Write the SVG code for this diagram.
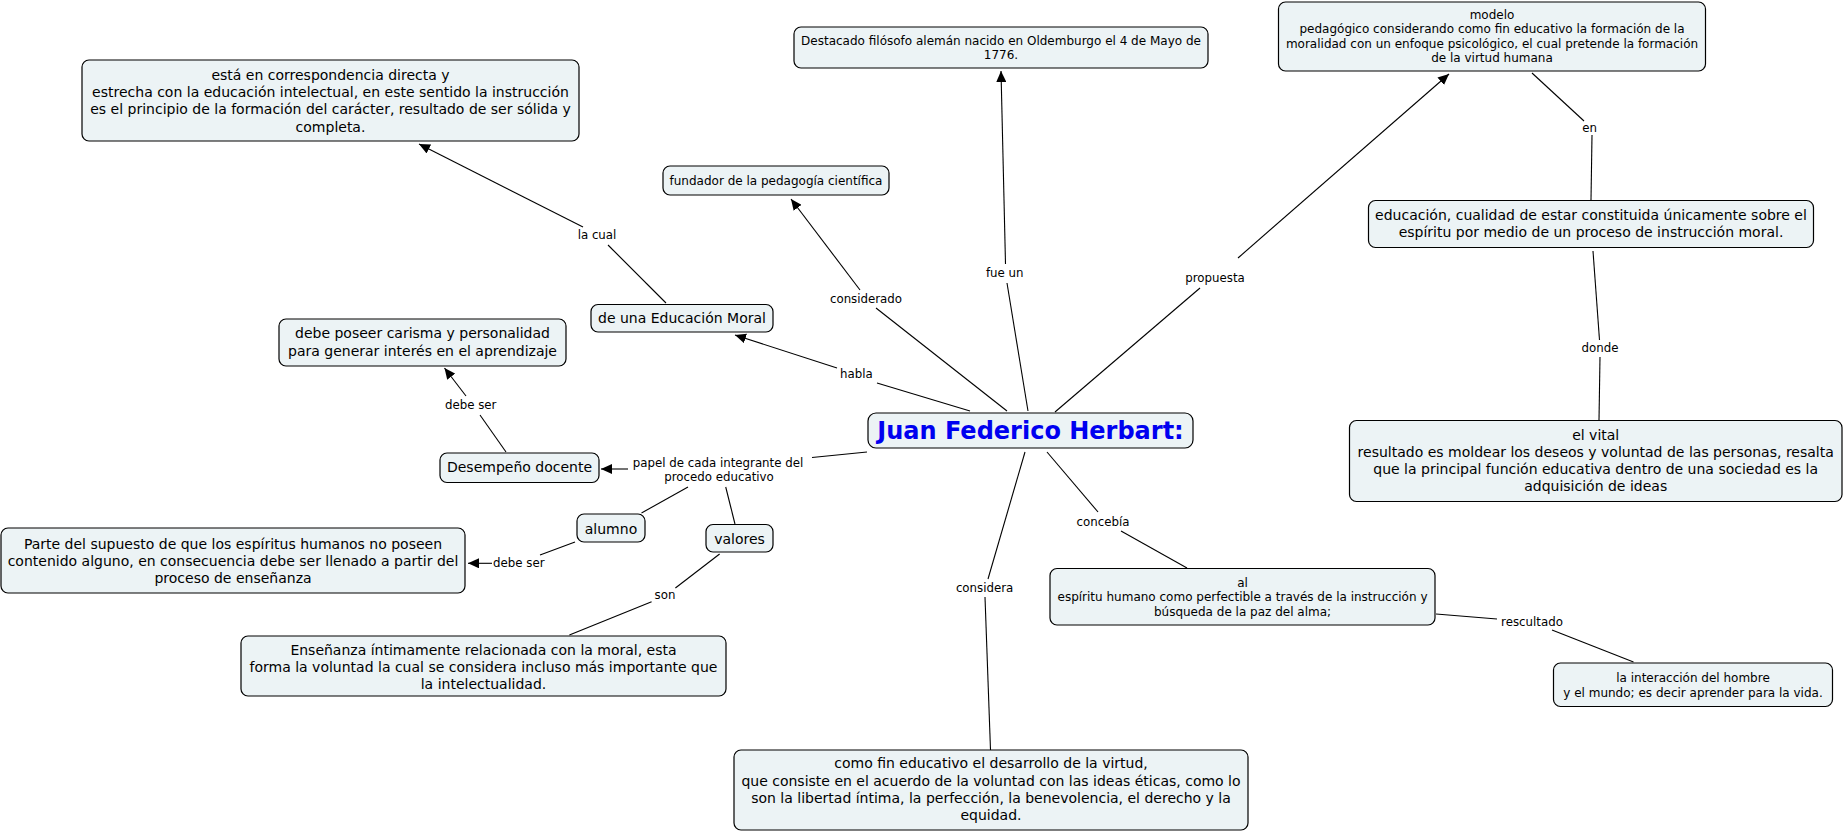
<svg xmlns="http://www.w3.org/2000/svg" width="1846" height="832" viewBox="0 0 1846 832">
<defs>
<style>
.n rect{fill:#ecf3f5;stroke:#000;stroke-width:1.2}
.n text{font-family:"DejaVu Sans",Verdana,sans-serif;font-size:14px;fill:#000;text-anchor:middle}
.n text.s{font-size:12px}
.n text.t{font-size:24px;font-weight:bold;fill:#0000f0}
.c line{stroke:#000;stroke-width:1.1}
.c line.a{marker-end:url(#ah)}
.l{font-family:"DejaVu Sans",Verdana,sans-serif;font-size:11.8px;fill:#000;text-anchor:middle}
</style>
<marker id="ah" markerUnits="userSpaceOnUse" markerWidth="12" markerHeight="10" refX="11" refY="5" orient="auto">
<path d="M0,0 L11,5 L0,10 z" fill="#000"/>
</marker>
</defs>
<rect width="1846" height="832" fill="#fff"/>

<g id="connectors" class="c">
<line x1="666" y1="303" x2="608" y2="245"/>
<line class="a" x1="583" y1="227" x2="419" y2="144"/>
<line x1="970" y1="411" x2="877" y2="383"/>
<line class="a" x1="837" y1="368" x2="735" y2="335"/>
<line x1="1007" y1="411" x2="876" y2="308"/>
<line class="a" x1="860" y1="290" x2="791" y2="199"/>
<line x1="1028" y1="411" x2="1007" y2="283"/>
<line class="a" x1="1005.5" y1="264" x2="1001" y2="71"/>
<line x1="1055" y1="412" x2="1200" y2="288"/>
<line class="a" x1="1238" y1="258" x2="1449" y2="74"/>
<line x1="1532" y1="73" x2="1584" y2="121"/>
<line x1="1592" y1="135" x2="1591" y2="200"/>
<line x1="1593" y1="251" x2="1599.5" y2="340"/>
<line x1="1600" y1="357" x2="1599" y2="420"/>
<line x1="1047" y1="452" x2="1098" y2="512"/>
<line x1="1121" y1="531" x2="1187" y2="568"/>
<line x1="1025" y1="452" x2="988" y2="579"/>
<line x1="985" y1="597" x2="990.5" y2="750"/>
<line x1="1436" y1="614" x2="1497" y2="619"/>
<line x1="1552" y1="630" x2="1633.5" y2="662"/>
<line x1="867" y1="452" x2="812" y2="457.5"/>
<line class="a" x1="628" y1="469" x2="601" y2="469"/>
<line x1="688" y1="487" x2="641.5" y2="513"/>
<line x1="725.7" y1="487" x2="735" y2="524"/>
<line x1="575" y1="542" x2="540" y2="555"/>
<line class="a" x1="492" y1="563.3" x2="468" y2="563.3"/>
<line x1="719.6" y1="554" x2="675.4" y2="588"/>
<line x1="651.6" y1="601.7" x2="569.4" y2="635"/>
<line x1="506" y1="452" x2="480" y2="415"/>
<line class="a" x1="466" y1="396" x2="444.5" y2="368"/>
</g>

<g id="labels">
<text class="l" x="597" y="238.5">la cual</text>
<text class="l" x="856.4" y="378.2">habla</text>
<text class="l" x="866" y="303.2">considerado</text>
<text class="l" x="1004.7" y="276.5">fue un</text>
<text class="l" x="1215" y="281.7">propuesta</text>
<text class="l" x="1589.5" y="131.9">en</text>
<text class="l" x="1600" y="351.9">donde</text>
<text class="l" x="1103" y="525.9">concebía</text>
<text class="l" x="984.6" y="591.9">considera</text>
<text class="l" x="1532" y="625.9">rescultado</text>
<text class="l" x="718" y="466.9">papel de cada integrante del</text>
<text class="l" x="719" y="480.9">procedo educativo</text>
<text class="l" x="518.8" y="567.3">debe ser</text>
<text class="l" x="665" y="598.6">son</text>
<text class="l" x="470.7" y="409">debe ser</text>
</g>

<g id="n-correspondencia" class="n">
<rect x="82" y="60" width="497" height="81" rx="7"/>
<text x="330.5" y="80">está en correspondencia directa y</text>
<text x="330.5" y="97.2">estrecha con la educación intelectual, en este sentido la instrucción</text>
<text x="330.5" y="114.4">es el principio de la formación del carácter, resultado de ser sólida y</text>
<text x="330.5" y="131.6">completa.</text>
</g>

<g id="n-destacado" class="n">
<rect x="794" y="27" width="414" height="41" rx="7"/>
<text class="s" x="1001" y="45">Destacado filósofo alemán nacido en Oldemburgo el 4 de Mayo de</text>
<text class="s" x="1001" y="59.3">1776.</text>
</g>

<g id="n-fundador" class="n">
<rect x="663" y="166" width="226" height="29" rx="7"/>
<text class="s" x="776" y="185">fundador de la pedagogía científica</text>
</g>

<g id="n-educacion-moral" class="n">
<rect x="591" y="304.5" width="182" height="27.5" rx="7"/>
<text x="682" y="323">de una Educación Moral</text>
</g>

<g id="n-carisma" class="n">
<rect x="279" y="319" width="287" height="47" rx="7"/>
<text x="422.5" y="338.2">debe poseer carisma y personalidad</text>
<text x="422.5" y="355.6">para generar interés en el aprendizaje</text>
</g>

<g id="n-herbart" class="n">
<rect x="868" y="413" width="325" height="35" rx="8"/>
<text class="t" x="1030.5" y="438.5">Juan Federico Herbart:</text>
</g>

<g id="n-docente" class="n">
<rect x="440" y="453" width="159" height="29.5" rx="7"/>
<text x="519.5" y="471.6">Desempeño docente</text>
</g>

<g id="n-alumno" class="n">
<rect x="577" y="514" width="68" height="28" rx="7"/>
<text x="611" y="533.9">alumno</text>
</g>

<g id="n-valores" class="n">
<rect x="706" y="524.5" width="67" height="27.5" rx="7"/>
<text x="739.5" y="543.6">valores</text>
</g>

<g id="n-parte" class="n">
<rect x="1" y="528" width="464" height="65" rx="7"/>
<text x="233" y="549">Parte del supuesto de que los espíritus humanos no poseen</text>
<text x="233" y="565.8">contenido alguno, en consecuencia debe ser llenado a partir del</text>
<text x="233" y="582.8">proceso de enseñanza</text>
</g>

<g id="n-ensenanza" class="n">
<rect x="241" y="636" width="485" height="60" rx="7"/>
<text x="483.5" y="655">Enseñanza íntimamente relacionada con la moral, esta</text>
<text x="483.5" y="671.8">forma la voluntad la cual se considera incluso más importante que</text>
<text x="483.5" y="688.8">la intelectualidad.</text>
</g>

<g id="n-virtud" class="n">
<rect x="734" y="750" width="514" height="80" rx="7"/>
<text x="991" y="768.3">como fin educativo el desarrollo de la virtud,</text>
<text x="991" y="785.5">que consiste en el acuerdo de la voluntad con las ideas éticas, como lo</text>
<text x="991" y="802.7">son la libertad íntima, la perfección, la benevolencia, el derecho y la</text>
<text x="991" y="820">equidad.</text>
</g>

<g id="n-al" class="n">
<rect x="1050" y="568.5" width="385" height="56.5" rx="7"/>
<text class="s" x="1242.5" y="586.5">al</text>
<text class="s" x="1242.5" y="601">espíritu humano como perfectible a través de la instrucción y</text>
<text class="s" x="1242.5" y="615.5">búsqueda de la paz del alma;</text>
</g>

<g id="n-interaccion" class="n">
<rect x="1553.5" y="663" width="279" height="43.5" rx="7"/>
<text class="s" x="1693" y="681.5">la interacción del hombre</text>
<text class="s" x="1693" y="696.5">y el mundo; es decir aprender para la vida.</text>
</g>

<g id="n-vital" class="n">
<rect x="1349.5" y="420.5" width="492.5" height="81" rx="7"/>
<text x="1595.7" y="440">el vital</text>
<text x="1595.7" y="457.2">resultado es moldear los deseos y voluntad de las personas, resalta</text>
<text x="1595.7" y="474">que la principal función educativa dentro de una sociedad es la</text>
<text x="1595.7" y="491">adquisición de ideas</text>
</g>

<g id="n-educacion" class="n">
<rect x="1368.5" y="200.5" width="445" height="47" rx="7"/>
<text x="1591" y="220">educación, cualidad de estar constituida únicamente sobre el</text>
<text x="1591" y="236.6">espíritu por medio de un proceso de instrucción moral.</text>
</g>

<g id="n-modelo" class="n">
<rect x="1278.5" y="2" width="427" height="69" rx="7"/>
<text class="s" x="1492" y="18.5">modelo</text>
<text class="s" x="1492" y="33.2">pedagógico considerando como fin educativo la formación de la</text>
<text class="s" x="1492" y="47.5">moralidad con un enfoque psicológico, el cual pretende la formación</text>
<text class="s" x="1492" y="62">de la virtud humana</text>
</g>
</svg>
